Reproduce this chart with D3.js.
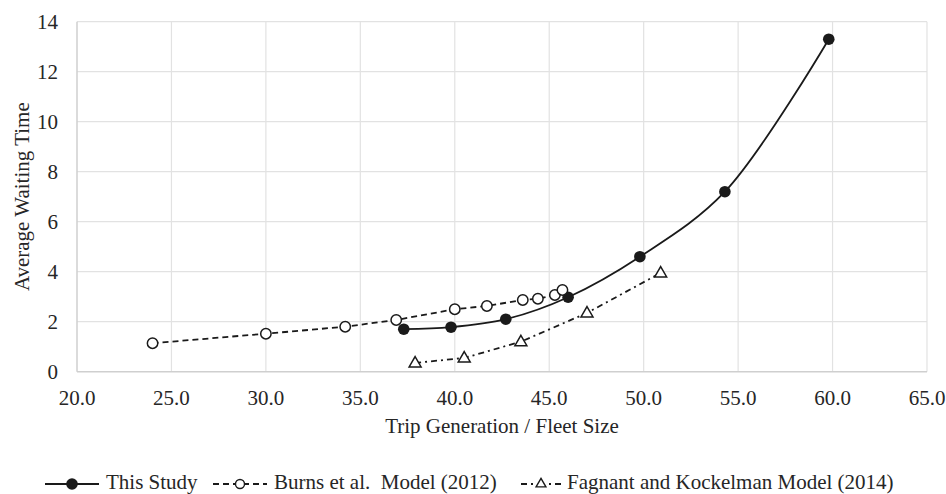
<!DOCTYPE html>
<html><head><meta charset="utf-8">
<script src="https://cdn.jsdelivr.net/npm/d3@7"></script>
<style>
body{margin:0;background:#fff}
text{font-family:"Liberation Serif","Times New Roman",serif;fill:#262626}
</style>
</head><body>
<svg id="c" width="946" height="494"></svg>
<script>
// ---- data ----
const xTicks = [20, 25, 30, 35, 40, 45, 50, 55, 60, 65];
const yTicks = [0, 2, 4, 6, 8, 10, 12, 14];
const thisStudyX = [37.3, 39.8, 42.7, 46.0, 49.8, 54.3, 59.8];
const thisStudyY = [1.70, 1.78, 2.10, 2.98, 4.60, 7.20, 13.30];
const burnsX = [24.0, 30.0, 34.2, 36.9, 40.0, 41.7, 43.6, 44.4, 45.3, 45.7];
const burnsY = [1.14, 1.52, 1.80, 2.07, 2.50, 2.63, 2.87, 2.92, 3.07, 3.27];
const fagnantX = [37.9, 40.5, 43.5, 47.0, 50.9];
const fagnantY = [0.35, 0.55, 1.20, 2.35, 3.95];
const seriesNames = ["This Study", "Burns et al.  Model (2012)", "Fagnant and Kockelman Model (2014)"];
const xTitle = "Trip Generation / Fleet Size";
const yTitle = "Average Waiting Time";

// ---- layout ----
const L = 77, R = 927, T = 21.7, B = 371.7;
const FS = 21;
const ink = "#1a1a1a";

const svg = d3.select("#c");
const x = d3.scaleLinear().domain([20, 65]).range([L, R]);
const y = d3.scaleLinear().domain([0, 14]).range([B, T]);

// grid
const g = svg.append("g");
g.selectAll("line.h").data(yTicks.filter(v => v > 0)).join("line")
  .attr("x1", L).attr("x2", R).attr("y1", d => y(d)).attr("y2", d => y(d))
  .attr("stroke", "#e2e2e2").attr("stroke-width", 1.2);
g.selectAll("line.v").data(xTicks.filter(v => v > 20)).join("line")
  .attr("x1", d => x(d)).attr("x2", d => x(d)).attr("y1", T).attr("y2", B)
  .attr("stroke", "#e2e2e2").attr("stroke-width", 1.2);
// axis lines
svg.append("line").attr("x1", L).attr("x2", L).attr("y1", T).attr("y2", B)
  .attr("stroke", "#cfcfcf").attr("stroke-width", 1.5);
svg.append("line").attr("x1", L).attr("x2", R).attr("y1", B).attr("y2", B)
  .attr("stroke", "#cfcfcf").attr("stroke-width", 1.5);

// tick labels
const fx = d3.format(".1f");
svg.selectAll("text.xt").data(xTicks).join("text")
  .attr("x", d => x(d)).attr("y", 404.5).attr("text-anchor", "middle")
  .attr("font-size", FS).text(d => fx(d));
svg.selectAll("text.yt").data(yTicks).join("text")
  .attr("x", 58).attr("y", d => y(d)).attr("dy", "0.35em").attr("text-anchor", "end")
  .attr("font-size", FS).text(d => d);

// titles
svg.append("text").attr("x", (L + R) / 2).attr("y", 433).attr("text-anchor", "middle")
  .attr("font-size", FS).text(xTitle);
svg.append("text").attr("transform", `translate(29,${(T + B) / 2}) rotate(-90)`)
  .attr("text-anchor", "middle").attr("font-size", FS).text(yTitle);

// series
const pts = (xs, ys) => xs.map((v, i) => [v, ys[i]]);
const sStudy = pts(thisStudyX, thisStudyY);
const sBurns = pts(burnsX, burnsY);
const sFag = pts(fagnantX, fagnantY);

const lineSmooth = d3.line().x(d => x(d[0])).y(d => y(d[1])).curve(d3.curveCatmullRom.alpha(0.5));
const lineStraight = d3.line().x(d => x(d[0])).y(d => y(d[1]));

const dashB = "6,4", dashF = "6,4,2,4";
const triSym = d3.symbol().type(d3.symbolTriangle).size(62);

svg.append("path").attr("d", lineSmooth(sStudy)).attr("fill", "none")
  .attr("stroke", ink).attr("stroke-width", 1.8);
svg.append("path").attr("d", lineStraight(sBurns)).attr("fill", "none")
  .attr("stroke", ink).attr("stroke-width", 1.8).attr("stroke-dasharray", dashB);
svg.append("path").attr("d", lineStraight(sFag)).attr("fill", "none")
  .attr("stroke", ink).attr("stroke-width", 1.8).attr("stroke-dasharray", dashF);

svg.selectAll("circle.st").data(sStudy).join("circle")
  .attr("cx", d => x(d[0])).attr("cy", d => y(d[1])).attr("r", 5.8).attr("fill", ink);
svg.selectAll("circle.bu").data(sBurns).join("circle")
  .attr("cx", d => x(d[0])).attr("cy", d => y(d[1])).attr("r", 5.2)
  .attr("fill", "#fff").attr("stroke", ink).attr("stroke-width", 1.5);
svg.selectAll("path.fa").data(sFag).join("path")
  .attr("d", triSym).attr("transform", d => `translate(${x(d[0])},${y(d[1]) + 0.5})`)
  .attr("fill", "#fff").attr("stroke", ink).attr("stroke-width", 1.5);

// legend
const legY = 484, legTextY = 489.3;
const legMarker = [72, 240, 541];
const legHalf = [27, 27, 20];
const legText = [106, 274, 567];
const legDash = [null, dashB, "6,4,2,16,2,4,6"];
seriesNames.forEach((name, i) => {
  svg.append("line").attr("x1", legMarker[i] - legHalf[i]).attr("x2", legMarker[i] + legHalf[i])
    .attr("y1", legY).attr("y2", legY).attr("stroke", ink).attr("stroke-width", 1.8)
    .attr("stroke-dasharray", legDash[i]);
  if (i === 0) svg.append("circle").attr("cx", legMarker[i]).attr("cy", legY).attr("r", 5.8).attr("fill", ink);
  if (i === 1) svg.append("circle").attr("cx", legMarker[i]).attr("cy", legY).attr("r", 4.5)
    .attr("fill", "#fff").attr("stroke", ink).attr("stroke-width", 1.4);
  if (i === 2) svg.append("path").attr("d", d3.symbol().type(d3.symbolTriangle).size(42)())
    .attr("transform", `translate(${legMarker[i]},${legY})`)
    .attr("fill", "#fff").attr("stroke", ink).attr("stroke-width", 1.4);
  svg.append("text").attr("x", legText[i]).attr("y", legTextY).attr("font-size", FS)
    .style("white-space", "pre").text(name);
});
</script>
</body></html>
